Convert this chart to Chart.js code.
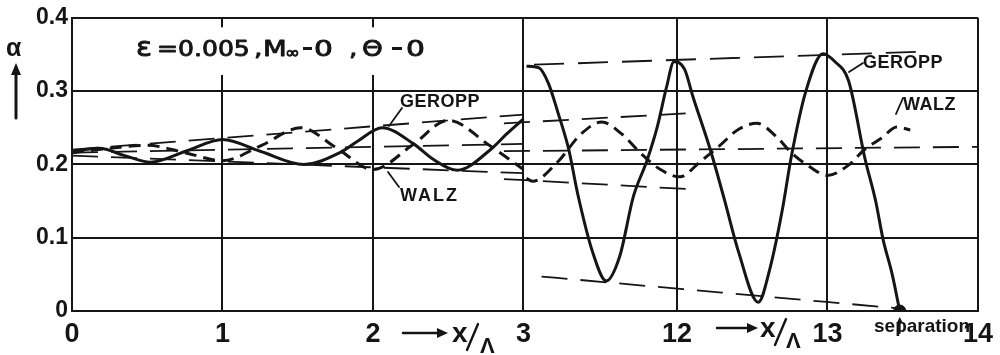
<!DOCTYPE html>
<html>
<head>
<meta charset="utf-8">
<script src="https://cdn.jsdelivr.net/npm/chart.js@4.4.1/dist/chart.umd.min.js"></script>
<style>
html,body{margin:0;padding:0;background:#fff}
</style>
</head>
<body>
<canvas id="myChart" width="1000" height="355"></canvas>
<script>
// tick labels, the x axis is broken between 3 and 11
var xTicks = [0, 1, 2, 3, 12, 13, 14]
var yTicks = [0, 0.1, 0.2, 0.3, 0.4]

// GEROPP (solid)
var geroppLeftX = [0.00, 0.08, 0.18, 0.35, 0.52, 0.77, 1.00, 1.25, 1.54, 1.78, 1.90, 2.06, 2.27, 2.40, 2.56, 2.78, 2.89, 3.00]
var geroppLeftA = [0.217, 0.220, 0.222, 0.212, 0.203, 0.219, 0.234, 0.218, 0.200, 0.216, 0.232, 0.250, 0.228, 0.207, 0.192, 0.220, 0.242, 0.262]
var geroppRightX = [11.00, 11.08, 11.145, 11.21, 11.28, 11.34, 11.44, 11.53, 11.62, 11.71, 11.80, 11.87, 11.93, 11.98, 12.05, 12.105, 12.22, 12.315, 12.41, 12.54, 12.62, 12.70, 12.76, 12.855, 12.97, 13.05, 13.14, 13.25, 13.32, 13.37, 13.43, 13.48]
var geroppRightA = [0.334, 0.332, 0.311, 0.270, 0.221, 0.160, 0.080, 0.041, 0.075, 0.156, 0.205, 0.252, 0.305, 0.340, 0.330, 0.293, 0.221, 0.152, 0.080, 0.012, 0.060, 0.138, 0.211, 0.299, 0.351, 0.340, 0.314, 0.207, 0.150, 0.097, 0.050, 0.000]

// WALZ (dashed)
var walzLeftX = [0.00, 0.25, 0.50, 0.75, 1.00, 1.26, 1.52, 1.76, 2.00, 2.26, 2.50, 2.78, 3.00]
var walzLeftA = [0.216, 0.222, 0.226, 0.216, 0.205, 0.226, 0.250, 0.222, 0.193, 0.226, 0.260, 0.225, 0.193]
var walzRightX = [11.00, 11.04, 11.21, 11.36, 11.50, 11.63, 11.76, 11.89, 12.02, 12.15, 12.28, 12.41, 12.53, 12.66, 12.76, 12.88, 13.00, 13.14, 13.25, 13.36, 13.46, 13.55]
var walzRightA = [0.181, 0.177, 0.204, 0.241, 0.258, 0.242, 0.215, 0.193, 0.183, 0.203, 0.225, 0.248, 0.256, 0.238, 0.216, 0.197, 0.185, 0.199, 0.221, 0.236, 0.251, 0.247]

// thin long-dash envelope lines
var envLeftX = [0, 3]
var envLeftUpA = [0.220, 0.268]
var envLeftMidA = [0.216, 0.228]
var envLeftLowA = [0.212, 0.188]
var envGeroppTopX = [11.05, 13.65]
var envGeroppTopA = [0.336, 0.354]
var envWalzTopX = [10.85, 12.1]
var envWalzTopA = [0.256, 0.270]
var envRightMidX = [10.85, 14.0]
var envRightMidA = [0.218, 0.224]
var envWalzLowX = [10.85, 12.1]
var envWalzLowA = [0.180, 0.166]
var envGeroppLowX = [11.1, 13.45]
var envGeroppLowA = [0.047, 0.004]

var separationX = [13.48]
var separationA = [0.0]

var ink = '#151515'
var FONT = "'Liberation Sans', Arial, sans-serif"
var WIDE = "'DejaVu Sans', sans-serif"
var breakAt = 3, shift = 7.98

function axisX(x){ return x > breakAt ? x - shift : x }
function pts(xs, as){ return xs.map(function(x, i){ return {x: axisX(x), y: as[i]} }) }

function curve(data, width, dash){
    return {data: data, showLine: true, borderColor: ink, backgroundColor: ink, borderWidth: width,
        borderDash: dash || [], pointRadius: 0, cubicInterpolationMode: 'monotone', fill: false}
}

function txt(c, s, x, y, size, ls){
    c.font = 'bold ' + size + 'px ' + FONT
    c.letterSpacing = (ls || 0) + 'px'
    c.fillText(s, x, y)
    c.letterSpacing = '0px'
}
// wide lettering for the parameter line
function wide(c, s, x, y, size, sx){
    c.save()
    c.translate(x, y)
    c.scale(sx, 1)
    c.font = size + 'px ' + WIDE
    c.lineWidth = 0.9
    c.lineJoin = 'round'
    c.fillText(s, 0, 0)
    c.strokeText(s, 0, 0)
    c.restore()
}
function line(c, x1, y1, x2, y2, w){
    c.lineWidth = w
    c.beginPath(); c.moveTo(x1, y1); c.lineTo(x2, y2); c.stroke()
}
// arrow start, arrow end, x start, Lambda start
function xOverLambda(c, a0, a1, ay, xx, lx){
    line(c, a0, ay, a1 - 8, ay, 2.5)
    c.beginPath(); c.moveTo(a1, ay); c.lineTo(a1 - 11, ay - 5); c.lineTo(a1 - 11, ay + 5); c.closePath(); c.fill()
    txt(c, 'x', xx, ay + 9, 28)
    line(c, xx + 15, ay + 17, xx + 26, ay - 9, 2.4)
    txt(c, 'Λ', lx, ay + 20, 22)
}

var decor = {
    id: 'decor',
    beforeDatasetsDraw: function(chart){
        var c = chart.ctx, xs = chart.scales.x, ys = chart.scales.y
        // the grid stops under the parameter text
        var x1 = xs.getPixelForValue(0.62), x2 = xs.getPixelForValue(2.45)
        var y1 = ys.getPixelForValue(0.387), y2 = ys.getPixelForValue(0.322)
        c.save()
        c.fillStyle = '#fff'
        c.fillRect(x1, y1, x2 - x1, y2 - y1)
        c.restore()
    },
    afterDatasetsDraw: function(chart){
        var c = chart.ctx, xs = chart.scales.x, ys = chart.scales.y
        c.save()
        c.fillStyle = ink
        c.strokeStyle = ink
        c.textBaseline = 'alphabetic'
        c.textAlign = 'left'
        c.lineCap = 'round'

        // parameters
        wide(c, 'ε', 136, 56, 27, 1.1)
        wide(c, '=0.005', 157, 56, 22, 1.14)
        wide(c, ',', 254, 56, 22, 1.2)
        wide(c, 'M', 263, 56, 22, 1.25)
        wide(c, '∞', 285, 58, 16, 1.1)
        c.fillRect(303, 47, 9, 3)
        wide(c, '0', 314, 56, 22, 1.35)
        wide(c, ',', 349, 56, 22, 1.2)
        wide(c, 'Θ', 362, 56, 22, 1.2)
        c.fillRect(392, 47, 10, 3)
        wide(c, '0', 406, 56, 22, 1.35)

        // alpha with arrow
        txt(c, 'α', 6, 56, 25)
        line(c, 16, 118, 16, 72, 3)
        c.beginPath(); c.moveTo(16, 63); c.lineTo(11, 75); c.lineTo(21, 75); c.closePath(); c.fill()

        // series labels
        txt(c, 'GEROPP', 400, 107, 18, 0.5)
        line(c, 402, 108, 389, 126, 1.8)
        txt(c, 'WALZ', 400, 201, 18, 2)
        line(c, 399, 187, 388, 172, 1.8)
        txt(c, 'GEROPP', 863, 68, 18, 0.5)
        line(c, 863, 63, 849, 72, 1.8)
        txt(c, 'WALZ', 903, 110, 18, 0.5)
        line(c, 896, 114, 903, 98, 1.8)

        // x axis titles
        xOverLambda(c, 403, 448, 333, 452, 480)
        xOverLambda(c, 717, 758, 328, 760, 786)

        // separation
        var sx = xs.getPixelForValue(axisX(separationX[0]))
        var sy = ys.getPixelForValue(separationA[0])
        txt(c, 'separation', 874, 332, 19)
        line(c, sx, sy + 22, sx, sy + 10, 1.8)
        c.beginPath(); c.moveTo(sx, sy + 6); c.lineTo(sx - 3, sy + 12); c.lineTo(sx + 3, sy + 12); c.closePath(); c.fill()
        c.restore()
    }
}

var ctx = document.getElementById('myChart').getContext('2d')
var myChart = new Chart(ctx, {
    type: 'scatter',
    data: {
        datasets: [
            curve(pts(envLeftX, envLeftUpA), 1.8, [26, 13]),
            curve(pts(envLeftX, envLeftMidA), 1.8, [26, 13]),
            curve(pts(envLeftX, envLeftLowA), 1.8, [26, 13]),
            curve(pts(envGeroppTopX, envGeroppTopA), 1.8, [30, 14]),
            curve(pts(envWalzTopX, envWalzTopA), 1.8, [26, 13]),
            curve(pts(envRightMidX, envRightMidA), 1.8, [26, 13]),
            curve(pts(envWalzLowX, envWalzLowA), 1.8, [26, 13]),
            curve(pts(envGeroppLowX, envGeroppLowA), 1.8, [26, 13]),
            curve(pts(walzLeftX, walzLeftA), 3, [12, 7]),
            curve(pts(walzRightX, walzRightA), 3, [12, 7]),
            curve(pts(geroppLeftX, geroppLeftA), 3),
            curve(pts(geroppRightX, geroppRightA), 3),
            {data: pts(separationX, separationA), pointRadius: 6, pointBackgroundColor: ink, pointBorderColor: ink, showLine: false}
        ]
    },
    options: {
        responsive: false,
        animation: false,
        devicePixelRatio: 1,
        layout: {padding: {top: 13, right: 19, left: 0, bottom: 0}},
        plugins: {legend: {display: false}, tooltip: {enabled: false}},
        scales: {
            x: {
                type: 'linear',
                min: 0,
                max: axisX(xTicks[xTicks.length - 1]),
                afterBuildTicks: function(s){ s.ticks = xTicks.map(function(v){ return {value: axisX(v)} }) },
                afterFit: function(s){ s.height = 44 },
                ticks: {
                    autoSkip: false, maxRotation: 0, padding: 7, color: ink,
                    font: {family: FONT, size: 27, weight: 'bold'},
                    callback: function(v, i){ return String(xTicks[i]) }
                },
                grid: {color: ink, lineWidth: 2, drawTicks: false},
                border: {color: ink, width: 2}
            },
            y: {
                min: 0,
                max: 0.4,
                afterBuildTicks: function(s){ s.ticks = yTicks.map(function(v){ return {value: v} }) },
                afterFit: function(s){ s.width = 72 },
                ticks: {
                    padding: 4, color: ink,
                    font: {family: FONT, size: 23, weight: 'bold'},
                    callback: function(v){ return v === 0 ? '0' : v.toFixed(1) }
                },
                grid: {color: ink, lineWidth: 2, drawTicks: false},
                border: {color: ink, width: 2}
            }
        }
    },
    plugins: [decor]
})
</script>
</body>
</html>
